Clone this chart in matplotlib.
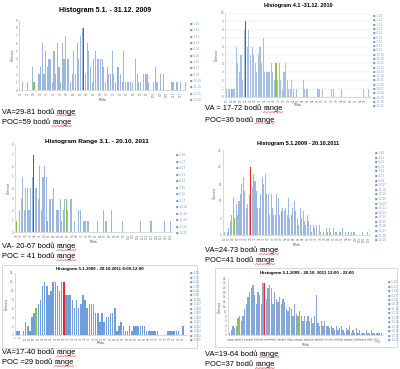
import numpy as np
import matplotlib.pyplot as plt
from matplotlib.patches import Rectangle
from matplotlib.lines import Line2D

W, H = 400, 369
FONT = ['Liberation Sans Narrow', 'Liberation Sans', 'DejaVu Sans']

# ---- data ----
p1_counts = [0, 1, 0, 0, 1, 0, 0, 3, 1, 0, 0, 2, 3, 6, 2, 5, 3, 4, 4, 1,
             5, 2, 6, 3, 1, 6, 4, 7, 4, 4, 1, 2, 5, 2, 6, 4, 7, 8, 8, 2,
             6, 5, 3, 1, 4, 5, 4, 4, 4, 4, 3, 1, 3, 2, 2, 5, 2, 1, 3, 3,
             2, 1, 5, 1, 1, 1, 1, 1, 0, 4, 2, 1, 1, 0, 2, 2, 2, 1, 0, 0,
             1, 3, 1, 0, 2, 0, 2, 0, 0, 0, 0, 1, 1, 0, 1, 0, 1, 0, 0, 1]
p1_red, p1_green = 38, [8, 58]

p2_counts = [1, 1, 1, 1, 1, 1, 6, 4, 3, 5, 2, 8, 9, 6, 8, 5, 6, 5, 4, 3,
             5, 6, 4, 7, 3, 3, 3, 3, 4, 3, 2, 4, 2, 4, 2, 1, 3, 4, 2, 1,
             1, 2, 1, 0, 1, 0, 0, 0, 2, 1, 1, 1, 0, 0, 0, 0, 0, 1, 1, 0,
             1, 0, 0, 0, 0, 0, 1, 1, 0, 0, 0, 0, 1, 0, 0, 0, 0, 0, 0, 0,
             0, 0, 0, 0, 0, 0, 1, 0, 0, 1]
p2_red, p2_green = 12, [3, 31]

p3_counts = [1, 0, 2, 3, 5, 2, 4, 4, 2, 4, 5, 7, 4, 4, 3, 6, 2, 5, 6, 5,
             1, 3, 3, 3, 4, 0, 2, 2, 3, 1, 2, 3, 3, 2, 0, 3, 0, 1, 0, 0,
             2, 2, 0, 1, 1, 0, 1, 0, 0, 0, 0, 0, 1, 0, 0, 0, 2, 1, 1, 0,
             0, 2, 0, 0, 0, 0, 0, 0, 1, 0, 0, 0, 0, 0, 0, 0, 0, 0, 0, 0,
             1, 0, 0, 0, 0, 0, 1, 1, 0, 0, 0, 0, 0, 0, 0, 1, 0, 0, 0, 1]
p3_red, p3_green = 11, [0, 20, 32]

p4_counts = [1, 0, 1, 2, 4, 6, 11, 5, 9, 6, 10, 12, 15, 17, 13, 8, 9, 12, 20, 14,
             18, 16, 13, 8, 8, 12, 17, 15, 18, 12, 12, 6, 12, 8, 6, 6, 12, 11, 6, 7,
             8, 7, 8, 6, 11, 5, 6, 8, 10, 7, 5, 3, 8, 5, 7, 4, 3, 6, 4, 3,
             1, 3, 2, 3, 0, 3, 1, 0, 1, 0, 2, 1, 2, 1, 0, 2, 1, 1, 0, 1,
             1, 2, 0, 1, 0, 1, 0, 1, 0, 1, 0, 0, 0, 0, 0, 1, 0, 0, 1, 0]
p4_red, p4_green = 18, [7, 39]

p5_counts = [1, 1, 0, 1, 3, 2, 1, 4, 5, 6, 7, 8, 11, 12, 11, 9, 10, 12, 12, 11,
             10, 12, 12, 9, 9, 9, 8, 6, 8, 6, 7, 9, 8, 6, 7, 7, 7, 5, 5, 3,
             5, 3, 4, 4, 5, 5, 6, 1, 2, 3, 2, 1, 1, 2, 1, 2, 2, 2, 2, 2,
             2, 1, 1, 1, 1, 1, 1, 0, 0, 0, 0, 1, 1, 1, 1, 1, 1, 0, 2, 0]
p5_red, p5_green = 22, [9, 36]

p6_counts = [1, 2, 4, 3, 4, 7, 8, 6, 8, 11, 13, 16, 18, 20, 21, 17, 13, 18, 17, 13,
             22, 22, 15, 20, 21, 20, 13, 18, 15, 14, 16, 13, 15, 14, 11, 10, 12, 11, 8, 13,
             9, 8, 10, 8, 6, 8, 6, 8, 6, 7, 5, 8, 17, 5, 4, 6, 4, 6, 4, 4,
             3, 4, 3, 2, 4, 2, 3, 4, 2, 1, 3, 2, 4, 1, 2, 1, 3, 1, 2, 1,
             1, 1, 2, 1, 1, 2, 1, 1, 1, 1, 1, 1]
p6_red, p6_green = 21, [5, 6, 41]

titles = ['Histogram 5.1. - 31.12. 2009',
          'Histogram 4.1 -31.12. 2010',
          'Histogram Range 3.1. - 20.10. 2011',
          'Histogram 5.1.2009 - 20.10.2011',
          'Histogram 5.1.2009 - 20.10.2011 8:00-12:00',
          'Histogram 5.1.2009 - 20.10. 2011 12:00 - 22:00']

notes = [('VA=29-81 bodů ', 'POC=59 bodů '),
         ('VA = 17-72 bodů ', 'POC=36 bodů '),
         ('VA- 20-67 bodů ', 'POC = 41 bodů '),
         ('VA=24-73 bodů ', 'POC=41 bodů '),
         ('VA=17-40 bodů ', 'POC =29 bodů '),
         ('VA=19-64 bodů ', 'POC=37 bodů ')]

fig = plt.figure(figsize=(4, 3.69), dpi=100)
fig.patch.set_facecolor('white')


def px_axes(x0, y0, x1, y1):
    return fig.add_axes([x0 / W, 1 - y1 / H, (x1 - x0) / W, (y1 - y0) / H])


def hist_panel(box, counts, red, greens, ymax, ystep, start, lstep, color,
               title, tpos, leg, grid=False, tsize=4.6):
    ax = px_axes(*box)
    x = np.arange(len(counts))
    cols = [color] * len(counts)
    for g in greens:
        cols[g] = '#8cc63f'
    cols[red] = '#e8262b'
    ax.bar(x, counts, width=0.72, color=cols, linewidth=0, zorder=2)
    ax.set_xlim(-1, len(counts))
    ax.set_ylim(0, ymax)
    ax.set_yticks(np.arange(0, ymax + 0.01, ystep))
    ax.set_xticks(x[::lstep])
    ax.set_xticklabels([str(start + i) for i in x[::lstep]], rotation=90)
    ax.tick_params(labelsize=2.0, length=0, pad=1, colors='#777777')
    for s in ['top', 'right']:
        ax.spines[s].set_visible(False)
    for s in ['left', 'bottom']:
        ax.spines[s].set_color('#bbbbbb')
        ax.spines[s].set_linewidth(0.4)
    if grid:
        ax.grid(axis='y', color='#dddddd', linewidth=0.3, zorder=0)
    ax.set_xlabel('Třída', fontsize=2.3, labelpad=1, color='#555555')
    ax.set_ylabel('Četnost', fontsize=2.3, labelpad=1, color='#555555')
    fig.text(tpos[0] / W, 1 - tpos[1] / H, title, fontsize=tsize,
             fontweight='bold', ha='center', va='center', family=FONT)
    lx, ly0, ly1, labels = leg
    for k, lab in enumerate(labels):
        yy = ly0 + (ly1 - ly0) * k / max(len(labels) - 1, 1)
        fig.text(lx / W, 1 - yy / H, '■ ' + lab, fontsize=1.9,
                 color='#7a96c0', ha='left', va='center')
    return ax


def leg_labels(n, first):
    return ['%d,%d' % (first + k, 10 + k) for k in range(n)]


hist_panel((19, 20, 187, 90), p1_counts, p1_red, p1_green, 9, 1, 21, 4,
           '#9bb9e0', titles[0], (105, 10), (190, 24, 100, leg_labels(13, 1)), tsize=5)
hist_panel((225, 13, 370, 97), p2_counts, p2_red, p2_green, 10, 1, 10, 3,
           '#a5c0e3', titles[1], (298, 6), (373, 16, 106, leg_labels(22, 1)), grid=True, tsize=4)
hist_panel((15, 144, 172, 232), p3_counts, p3_red, p3_green, 8, 1, 30, 3,
           '#9bb9e0', titles[2], (97, 142), (176, 155, 233, leg_labels(13, 2)), tsize=4.6)
hist_panel((223, 150, 370, 235), p4_counts, p4_red, p4_green, 25, 5, 10, 3,
           '#9bb9e0', titles[3], (298, 143), (375, 153, 240, leg_labels(20, 3)), tsize=4)
hist_panel((15, 273, 187, 335), p5_counts, p5_red, p5_green, 14, 2, 7, 2,
           '#6e9fdc', titles[4], (100, 269), (190, 273, 340, leg_labels(16, 4)), tsize=3.2)
hist_panel((228, 278, 383, 335), p6_counts, p6_red, p6_green, 24, 2, 12, 2,
           '#84a8d8', titles[5], (307, 273), (388, 282, 340, leg_labels(14, 5)), tsize=3.2)

# frames around the two bottom charts
for x0, y0, x1, y1 in [(2, 265, 197, 348), (215, 268, 397, 347)]:
    fig.patches.append(Rectangle((x0 / W, 1 - y1 / H), (x1 - x0) / W, (y1 - y0) / H,
                                 transform=fig.transFigure, fill=False,
                                 edgecolor='#c8c8c8', linewidth=0.5))

# notes under each chart, with red spell-check squiggle under "range"
note_pos = [(2, 112, 123), (205, 109, 120), (2, 247, 257),
            (205, 251, 261), (2, 353, 363), (205, 354, 365)]
r = fig.canvas.get_renderer()
for (x, ya, yb), pair in zip(note_pos, notes):
    for y, pre in zip((ya, yb), pair):
        t = fig.text(x / W, 1 - y / H, pre, fontsize=5.4, family=FONT,
                     ha='left', va='center')
        bb = t.get_window_extent(renderer=r)
        t2 = fig.text(bb.x1 / W, 1 - y / H, 'range', fontsize=5.4, family=FONT,
                      ha='left', va='center')
        bb2 = t2.get_window_extent(renderer=r)
        xs = np.linspace(bb2.x0, bb2.x1, 12)
        ys = bb2.y0 + 0.2 + 0.5 * (np.arange(12) % 2)
        fig.lines.append(Line2D(xs / W, ys / H, transform=fig.transFigure,
                                color='#e02020', linewidth=0.4))

fig.savefig('out.png', dpi=100, facecolor='white')
